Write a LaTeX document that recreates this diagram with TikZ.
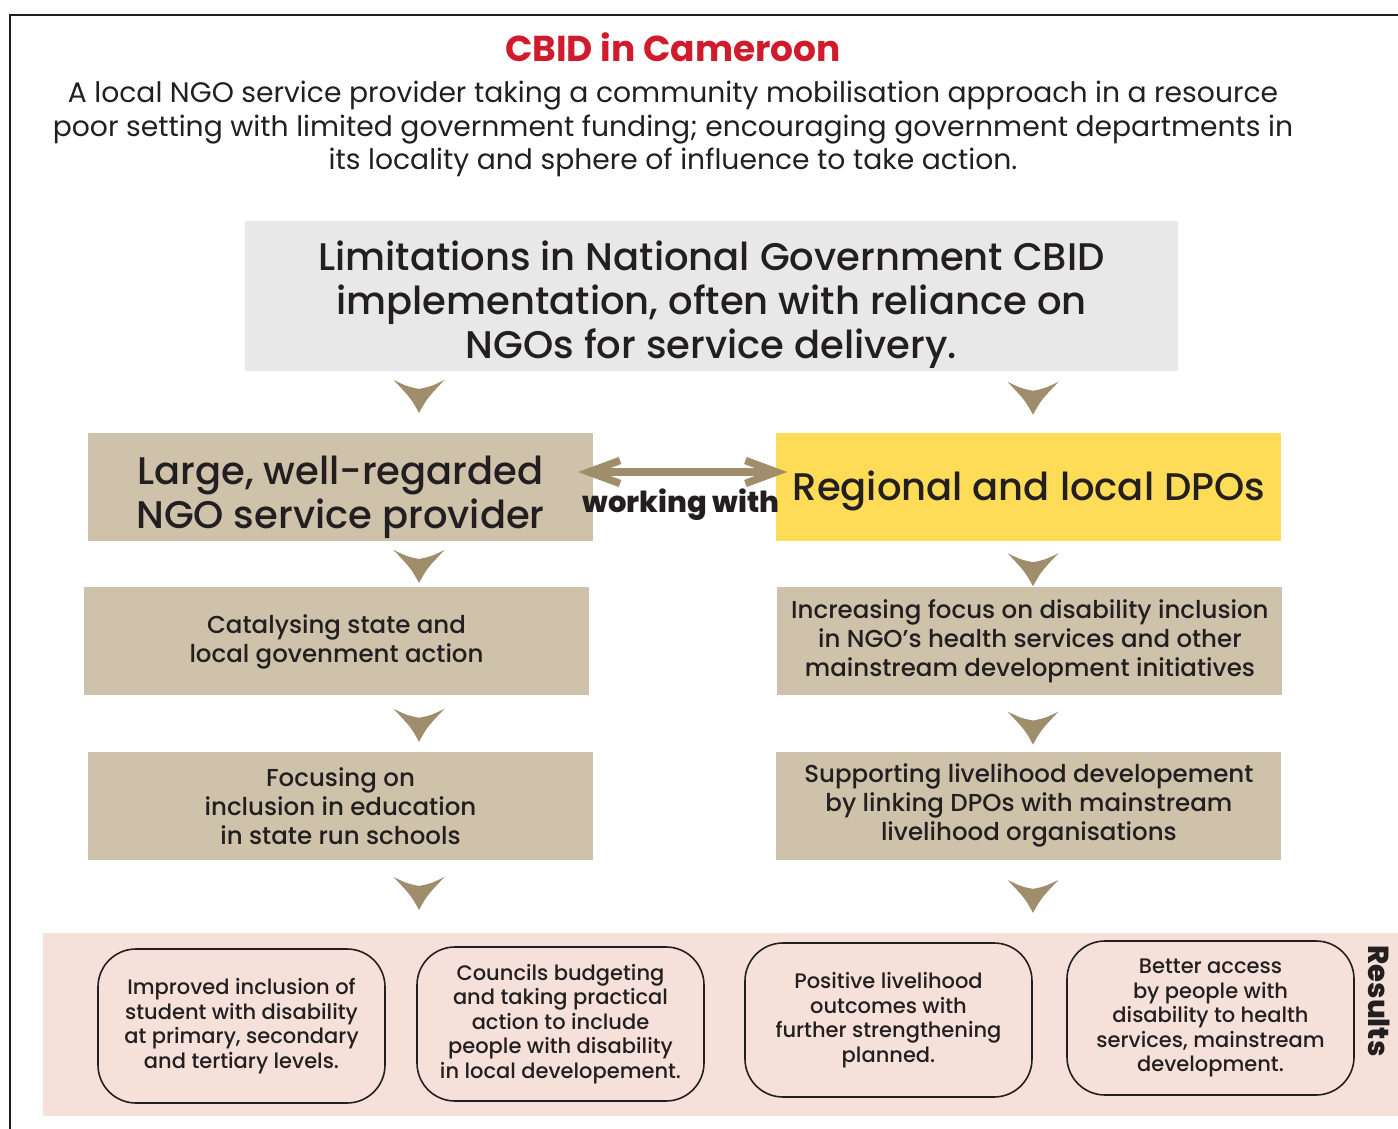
\documentclass[tikz,border=0pt]{standalone}
\usepackage{fontspec}
\setmainfont{Poppins}
\newfontfamily\medfont{Poppins Medium}
\newfontfamily\heavyfont{Poppins ExtraBold}
\usepackage{xcolor}
\usetikzlibrary{positioning,arrows.meta,decorations.markings}

\definecolor{ink}{HTML}{231F20}
\definecolor{cbidred}{HTML}{CF1B2B}
\definecolor{limgrey}{HTML}{E8E8E8}
\definecolor{boxtan}{HTML}{CFC2AB}
\definecolor{dpoyellow}{HTML}{FEDC57}
\definecolor{bandpink}{HTML}{F6E1DA}
\definecolor{chevtan}{HTML}{9F8D6C}

\begin{document}
\begin{tikzpicture}[
    x=1pt, y=-1pt,
    tanbox/.style={fill=boxtan, minimum width=505pt, minimum height=108pt, align=center, inner sep=0pt, text=ink},
    bigtext/.style={align=center, text=ink, font=\medfont\fontsize{38.5}{44}\selectfont},
    smalltext/.style={font=\medfont\fontsize{24.5}{29}\selectfont},
    result/.style={draw=ink, line width=1.6pt, rounded corners=38pt, minimum width=287pt, minimum height=154pt,
        align=center, inner sep=0pt, outer sep=0pt, text=ink, font=\medfont\fontsize{21}{24.5}\selectfont},
    chev/.style={postaction={decorate}, decoration={markings, mark=at position #1 with {
        \fill[chevtan] (16.5,0) .. controls (2,8) .. (-16.5,25.5) .. controls (-10,12) .. (-7.5,0)
            .. controls (-10,-12) .. (-16.5,-25.5) .. controls (2,-8) .. cycle;}}},
    chev/.default=0.5,
    link/.style={{Straight Barb[length=31pt,width=23pt]}-{Straight Barb[length=31pt,width=23pt]}, line width=7.5pt, draw=chevtan}
]
    \useasboundingbox (0,0) rectangle (1398,1129);

    % open frame, cut at the right and bottom
    \draw[ink, line width=2.5pt] (10,1129) |- (1398,15);

    \node[text=cbidred, font=\bfseries\fontsize{36}{40}\selectfont] (title) at (673,47) {CBID in Cameroon};
    \node[text=ink, align=center, font=\fontsize{28.2}{33.5}\selectfont] (intro) at (673,129)
        {A local NGO service provider taking a community mobilisation approach in a resource\\
         poor setting with limited government funding; encouraging government departments in\\
         its locality and sphere of influence to take action.};

    \node[fill=limgrey, minimum width=933pt, minimum height=150pt, inner sep=0pt,
        label={[bigtext, yshift=-8.5pt]center:{Limitations in National Government CBID\\ implementation, often with reliance on\\ NGOs for service delivery.}}] (lim) at (711.5,296) {};

    % two columns
    \node[tanbox, label={[bigtext, yshift=-10pt]center:{Large, well-regarded\\ NGO service provider}}] (ngo) at (340.5,487) {};
    \node[tanbox, fill=dpoyellow, right=183pt of ngo, label={[bigtext, yshift=-4pt]center:{Regional and local DPOs}}] (dpo) {};

    \node[tanbox, smalltext, below=46pt of ngo, xshift=-4pt] (cat) {Catalysing state and\\ local govenment action};
    \node[tanbox, smalltext, below=56pt of cat, xshift=4pt] (foc) {Focusing on\\ inclusion in education\\ in state run schools};
    \node[tanbox, smalltext, below=46pt of dpo, xshift=1pt] (inc) {Increasing focus on disability inclusion\\ in NGO’s health services and other\\ mainstream development initiatives};
    \node[tanbox, smalltext, below=56pt of inc, xshift=-1pt] (sup) {Supporting livelihood developement\\ by linking DPOs with mainstream\\ livelihood organisations};

    \draw[link] ([xshift=-15pt,yshift=15pt]ngo.east) -- ([xshift=11pt,yshift=15pt]dpo.west);
    \node[text=ink, font=\heavyfont\fontsize{29}{31}\selectfont] (with) at (681,505) {working with};

    % results strip
    \node[fill=bandpink, minimum width=1355pt, minimum height=183pt, inner sep=0pt] (band) at (720.5,1024.5) {};
    \node[result] (r1) at (241.5,1026) {Improved inclusion of\\ student with disability\\ at primary, secondary\\ and tertiary levels.};
    \node[result, right=32pt of r1, yshift=2pt] (r2) {Councils budgeting\\ and taking practical\\ action to include\\ people with disability\\ in local developement.};
    \node[result, right=41pt of r2, yshift=4pt] (r3) {Positive livelihood\\ outcomes with\\ further strengthening\\ planned.};
    \node[result, right=35pt of r3, yshift=2pt] (r4) {Better access\\ by people with\\ disability to health\\ services, mainstream\\ development.};
    \node[rotate=-90, text=ink, font=\heavyfont\fontsize{29}{32}\selectfont] (reslabel) at (1379,1001) {Results};

    % chevrons between the stages
    \coordinate (colL) at (419,0);
    \coordinate (colR) at (1033,0);
    \path[chev=0.41] (lim.south -| colL) -- (ngo.north -| colL);
    \path[chev=0.55] (ngo.south -| colL) -- (cat.north -| colL);
    \path[chev=0.53] (cat.south -| colL) -- (foc.north -| colL);
    \path[chev=0.46] (foc.south -| colL) -- (band.north -| colL);
    \path[chev=0.44] (lim.south -| colR) -- (dpo.north -| colR);
    \path[chev=0.62] (dpo.south -| colR) -- (inc.north -| colR);
    \path[chev=0.58] (inc.south -| colR) -- (sup.north -| colR);
    \path[chev=0.5] (sup.south -| colR) -- (band.north -| colR);
\end{tikzpicture}
\end{document}
